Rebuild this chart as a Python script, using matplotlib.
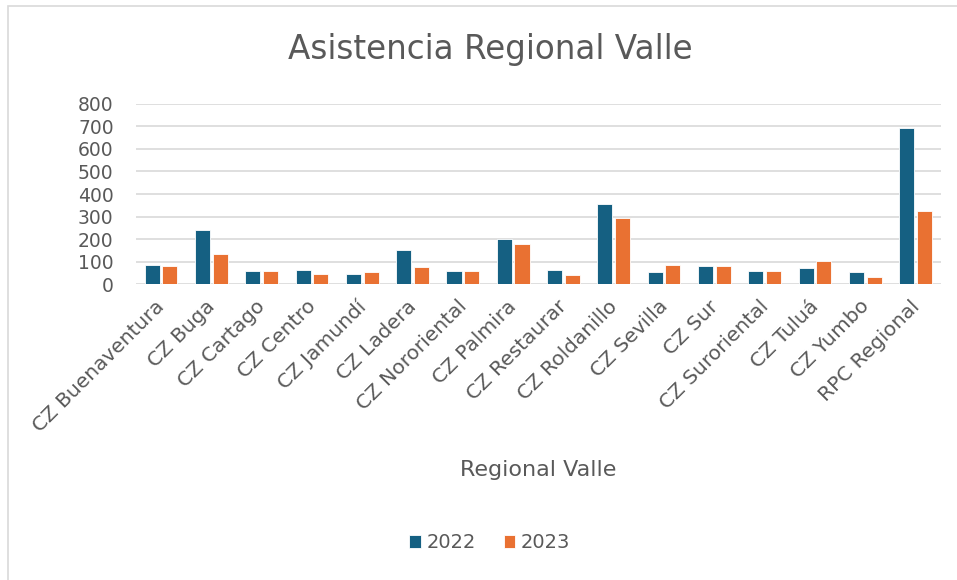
import numpy as np
import matplotlib.pyplot as plt
import matplotlib.transforms as mtransforms
from matplotlib.patches import Rectangle

plt.rcParams['font.family'] = ['DejaVu Sans']

categorias = ['CZ Buenaventura', 'CZ Buga', 'CZ Cartago', 'CZ Centro', 'CZ Jamundí',
              'CZ Ladera', 'CZ Nororiental', 'CZ Palmira', 'CZ Restaurar', 'CZ Roldanillo',
              'CZ Sevilla', 'CZ Sur', 'CZ Suroriental', 'CZ Tuluá', 'CZ Yumbo', 'RPC Regional']
v2022 = [86, 240, 58, 64, 47, 150, 58, 200, 62, 356, 52, 81, 58, 70, 52, 692]
v2023 = [81, 133, 58, 47, 53, 76, 58, 178, 40, 292, 86, 81, 58, 104, 34, 326]
yticks = [0, 100, 200, 300, 400, 500, 600, 700, 800]

azul = '#156082'
naranja = '#E97132'
gris = '#595959'

fig = plt.figure(figsize=(9.57, 5.8), dpi=100)
ax = fig.add_axes([0.142, 0.510, 0.841, 0.311])

x = np.arange(len(categorias))
ax.bar(x - 0.176, v2022, width=0.3, color=azul, edgecolor='white', linewidth=0.6, label='2022', zorder=3)
ax.bar(x + 0.176, v2023, width=0.3, color=naranja, edgecolor='white', linewidth=0.6, label='2023', zorder=3)

ax.set_xlim(-0.5, len(categorias) - 0.5)
ax.set_ylim(0, 800)
ax.set_yticks(yticks)
ax.set_xticks(x)
ax.set_xticklabels(categorias, rotation=45, ha='right', rotation_mode='anchor')
ax.tick_params(axis='both', length=0, labelcolor=gris)
ax.tick_params(axis='y', pad=16, labelsize=13.5)
ax.tick_params(axis='x', pad=9, labelsize=14.5)
desplaza = mtransforms.ScaledTranslation(-6 / 100, 0, fig.dpi_scale_trans)
for lbl in ax.get_xticklabels():
    lbl.set_transform(lbl.get_transform() + desplaza)
ax.grid(axis='y', color='#d9d9d9', linewidth=1.2, zorder=0)
for s in ax.spines.values():
    s.set_visible(False)

ax.set_xlabel('Regional Valle', fontsize=16, color=gris, labelpad=18)
fig.text(0.512, 0.915, 'Asistencia Regional Valle', ha='center', va='center',
         fontsize=23.5, color=gris)

fig.legend(loc='center', bbox_to_anchor=(0.512, 0.064), ncol=2, frameon=False,
           fontsize=14, handlelength=0.6, handleheight=0.6, columnspacing=1.4,
           handletextpad=0.3, labelcolor=gris)

fig.patches.append(Rectangle((0.008, -0.01), 1.5, 1.0, transform=fig.transFigure,
                             fill=False, edgecolor='#d9d9d9', linewidth=1.2))

fig.savefig('out.png', dpi=100)
